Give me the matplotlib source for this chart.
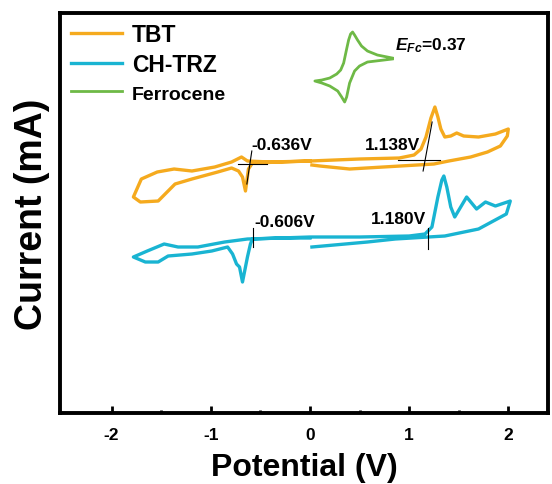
import matplotlib.pyplot as plt

plt.rcParams['font.family'] = ['Liberation Sans', 'DejaVu Sans']
plt.rcParams['font.weight'] = 'bold'
plt.rcParams['axes.unicode_minus'] = False
plt.rcParams['mathtext.fontset'] = 'custom'
plt.rcParams['mathtext.rm'] = 'Liberation Sans:bold'
plt.rcParams['mathtext.it'] = 'Liberation Sans:italic'
plt.rcParams['mathtext.bf'] = 'Liberation Sans:bold'
plt.rcParams['mathtext.bfit'] = 'Liberation Sans:bold:italic'

# TBT cyclic voltammogram (potential V, current arb. units)
tbt_v = [0.0, -0.30, -0.58, -0.62, -0.65, -0.68, -0.72, -0.79, -0.93, -1.19, -1.36, -1.53,
         -1.71, -1.78, -1.70, -1.54, -1.37, -1.19, -0.96, -0.79, -0.69, -0.63, -0.40, 0.0,
         0.5, 0.9, 1.05, 1.12, 1.17, 1.22, 1.26, 1.29, 1.32, 1.36, 1.42, 1.48, 1.55, 1.70,
         1.87, 2.00, 1.99, 1.92, 1.79, 1.62, 1.40, 1.25, 0.74, 0.40, 0.10, 0.02]
tbt_i = [25.2, 25.1, 25.0, 24.4, 22.2, 23.6, 24.2, 24.5, 24.1, 23.4, 22.9, 21.2,
         21.1, 21.6, 23.4, 24.1, 24.4, 24.2, 24.6, 25.1, 25.6, 25.2, 25.1, 25.2,
         25.4, 25.5, 25.8, 26.4, 27.6, 29.5, 30.6, 29.6, 28.4, 27.6, 27.7, 28.0, 27.7, 27.6,
         27.9, 28.4, 27.7, 26.7, 26.1, 25.6, 25.2, 24.9, 24.6, 24.4, 24.7, 24.8]

# CH-TRZ cyclic voltammogram
trz_v = [0.0, -0.30, -0.58, -0.60, -0.63, -0.68, -0.71, -0.74, -0.78, -0.83, -0.99, -1.19,
         -1.43, -1.53, -1.66, -1.78, -1.64, -1.47, -1.33, -1.13, -0.86, -0.63, -0.30, 0.0,
         0.5, 1.0, 1.16, 1.23, 1.29, 1.33, 1.35, 1.38, 1.42, 1.46, 1.52, 1.58, 1.68, 1.77,
         1.87, 2.02, 1.98, 1.70, 1.36, 0.86, 0.58, 0.02]
trz_i = [17.5, 17.5, 17.4, 16.9, 15.6, 13.1, 14.6, 14.9, 15.9, 16.6, 16.2, 15.9,
         15.7, 15.1, 15.1, 15.6, 16.2, 16.9, 16.6, 16.6, 17.1, 17.4, 17.5, 17.6,
         17.6, 17.7, 17.9, 18.6, 21.6, 23.3, 23.7, 22.6, 20.6, 19.6, 20.6, 21.6, 20.4, 21.1,
         20.7, 21.2, 19.9, 18.4, 17.7, 17.4, 17.1, 16.6]

# Ferrocene reference (inset-like trace)
fc_v = [0.83, 0.68, 0.58, 0.52, 0.48, 0.45, 0.43, 0.41, 0.39, 0.37, 0.34, 0.31, 0.27,
        0.20, 0.12, 0.05, 0.12, 0.20, 0.28, 0.32, 0.35, 0.37, 0.40, 0.45, 0.50, 0.58, 0.83]
fc_i = [35.5, 35.8, 36.2, 36.7, 37.3, 37.8, 38.1, 37.9, 37.3, 36.4, 35.0, 34.3, 33.9,
        33.5, 33.3, 33.2, 33.0, 32.7, 32.2, 31.6, 31.1, 31.6, 33.0, 34.2, 34.7, 35.1, 35.4]

# onset tangent guides
tan_v = [[-0.586, -0.636], [-0.727, -0.434], [1.232, 1.141], [0.889, 1.313],
         [-0.576, -0.576], [1.19, 1.19]]
tan_i = [[26.2, 22.9], [24.9, 24.9], [29.1, 24.2], [25.3, 25.3],
         [18.5, 16.6], [18.5, 16.4]]

onset_labels = ['-0.636V', '1.138V', '-0.606V', '1.180V']
onset_pos = [(-0.59, 26.1), (0.55, 26.1), (-0.56, 18.4), (0.61, 18.7)]

fig = plt.figure(figsize=(5.52, 4.85), dpi=100)
ax = fig.add_axes([0.1087, 0.1464, 0.884, 0.8247])

ax.plot(tbt_v, tbt_i, color='#F5AA1E', lw=2.4, label='TBT')
ax.plot(trz_v, trz_i, color='#19B4D2', lw=2.4, label='CH-TRZ')
ax.plot(fc_v, fc_i, color='#6EB946', lw=2.0, label='Ferrocene')

for xv, yv in zip(tan_v, tan_i):
    ax.plot(xv, yv, color='black', lw=0.8)

for txt, (xx, yy) in zip(onset_labels, onset_pos):
    ax.text(xx, yy, txt, fontsize=12.5, fontweight='bold', ha='left', va='bottom')

ax.text(0.86, 35.9, r'$\mathbfit{E}_{\mathit{Fc}}$=0.37', fontsize=12.5, fontweight='bold',
        ha='left', va='bottom')

ax.set_xlim(-2.52, 2.40)
ax.set_ylim(0, 40)
ax.set_xticks([-2, -1, 0, 1, 2])
ax.set_xticks([-1.5, -0.5, 0.5, 1.5], minor=True)
ax.set_yticks([])
ax.tick_params(axis='x', which='major', direction='in', length=5, width=2, labelsize=12.5, pad=10)
ax.tick_params(axis='x', which='minor', direction='in', length=2.5, width=2)
for lab in ax.get_xticklabels():
    lab.set_fontweight('bold')
for sp in ax.spines.values():
    sp.set_linewidth(2.8)

ax.set_xlabel('Potential (V)', fontsize=23, fontweight='bold', labelpad=7)
ax.set_ylabel('Current (mA)', fontsize=27, fontweight='bold', labelpad=7)

leg = ax.legend(loc='upper left', bbox_to_anchor=(-0.01, 1.015), frameon=False,
                fontsize=16.5, handlelength=2.2, handletextpad=0.45, labelspacing=0.3,
                borderpad=0.2)
leg.get_texts()[2].set_fontsize(14)
for t in leg.get_texts():
    t.set_fontweight('bold')

fig.savefig('out.png', dpi=100)
